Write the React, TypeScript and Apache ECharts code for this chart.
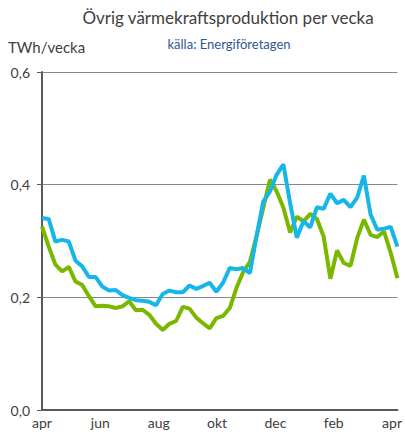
import React, { useEffect, useRef } from "react";
import * as echarts from "echarts";

const monthLabels = ["apr", "jun", "aug", "okt", "dec", "feb", "apr"];
const yTicks = [0, 0.2, 0.4, 0.6];

const blueSeries = [
  0.341, 0.339, 0.299, 0.302, 0.299, 0.265, 0.255, 0.236, 0.236, 0.219,
  0.212, 0.213, 0.204, 0.199, 0.195, 0.194, 0.192, 0.186, 0.206, 0.212,
  0.209, 0.209, 0.221, 0.215, 0.22, 0.226, 0.21, 0.226, 0.252, 0.25,
  0.252, 0.243, 0.309, 0.37, 0.388, 0.418, 0.436, 0.367, 0.306, 0.335,
  0.324, 0.36, 0.357, 0.384, 0.367, 0.373, 0.36, 0.377, 0.416, 0.347,
  0.32, 0.322, 0.325, 0.29,
];

const greenSeries = [
  0.326, 0.29, 0.258, 0.246, 0.254, 0.228, 0.222, 0.202, 0.184, 0.185,
  0.184, 0.181, 0.184, 0.193, 0.177, 0.178, 0.169, 0.153, 0.142, 0.153,
  0.158, 0.183, 0.18, 0.164, 0.154, 0.145, 0.163, 0.167, 0.181, 0.217,
  0.245, 0.263, 0.309, 0.359, 0.409, 0.388, 0.359, 0.315, 0.343, 0.335,
  0.348, 0.339, 0.308, 0.233, 0.283, 0.261, 0.256, 0.305, 0.338, 0.311,
  0.307, 0.317, 0.279, 0.234,
];

const WEEKS_PER_LABEL = 8.7;
const FONT = "Lato, 'Open Sans', sans-serif";

export default function App() {
  const ref = useRef<HTMLDivElement>(null);
  useEffect(() => {
    if (!ref.current) return;
    const chart = echarts.init(ref.current, undefined, { renderer: "svg" });
    const toPairs = (arr: number[]) => arr.map((v, i) => [i, v]);
    chart.setOption({
      animation: false,
      textStyle: { fontFamily: FONT },
      graphic: [
        {
          type: "text",
          x: 228,
          y: 9,
          style: {
            text: "Övrig värmekraftsproduktion per vecka",
            font: `normal 17px ${FONT}`,
            fill: "#404040",
            textAlign: "center",
          },
        },
        {
          type: "text",
          x: 229,
          y: 37,
          style: {
            text: "källa: Energiföretagen",
            font: `normal 13px ${FONT}`,
            fill: "#2f5597",
            textAlign: "center",
          },
        },
        {
          type: "text",
          x: 8,
          y: 39,
          style: {
            text: "TWh/vecka",
            font: `normal 15px ${FONT}`,
            fill: "#404040",
          },
        },
      ],
      grid: { left: 42, right: 6, top: 72, bottom: 28, containLabel: false },
      xAxis: {
        type: "value",
        min: 0,
        max: blueSeries.length - 1,
        interval: WEEKS_PER_LABEL,
        axisLine: { show: true, lineStyle: { color: "#595959", width: 2 } },
        axisTick: { show: false },
        splitLine: { show: false },
        axisLabel: {
          color: "#404040",
          fontSize: 14,
          margin: 5,
          fontFamily: FONT,
          showMaxLabel: false,
          formatter: (v: number) => {
            const idx = Math.round(v / WEEKS_PER_LABEL);
            if (Math.abs(v - idx * WEEKS_PER_LABEL) > 0.01) return "";
            return monthLabels[idx] ?? "";
          },
        },
      },
      yAxis: {
        type: "value",
        min: yTicks[0],
        max: yTicks[yTicks.length - 1],
        interval: 0.2,
        axisLine: { show: true, lineStyle: { color: "#595959", width: 2 } },
        axisTick: { show: true, length: 5, lineStyle: { color: "#595959", width: 1 } },
        splitLine: { show: true, lineStyle: { color: "#868686", width: 1 } },
        axisLabel: {
          color: "#404040",
          fontSize: 14,
          margin: 12,
          fontFamily: FONT,
          formatter: (v: number) => v.toFixed(1).replace(".", ","),
        },
      },
      series: [
        {
          type: "line",
          data: toPairs(greenSeries),
          symbol: "none",
          lineStyle: { color: "#7ab800", width: 4 },
          z: 2,
        },
        {
          type: "line",
          data: toPairs(blueSeries),
          symbol: "none",
          lineStyle: { color: "#16b6e8", width: 4 },
          z: 3,
        },
      ],
    });
    return () => chart.dispose();
  }, []);
  return (
    <div
      ref={ref}
      style={{ position: "absolute", left: 0, top: 0, width: 405, height: 438 }}
    />
  );
}
